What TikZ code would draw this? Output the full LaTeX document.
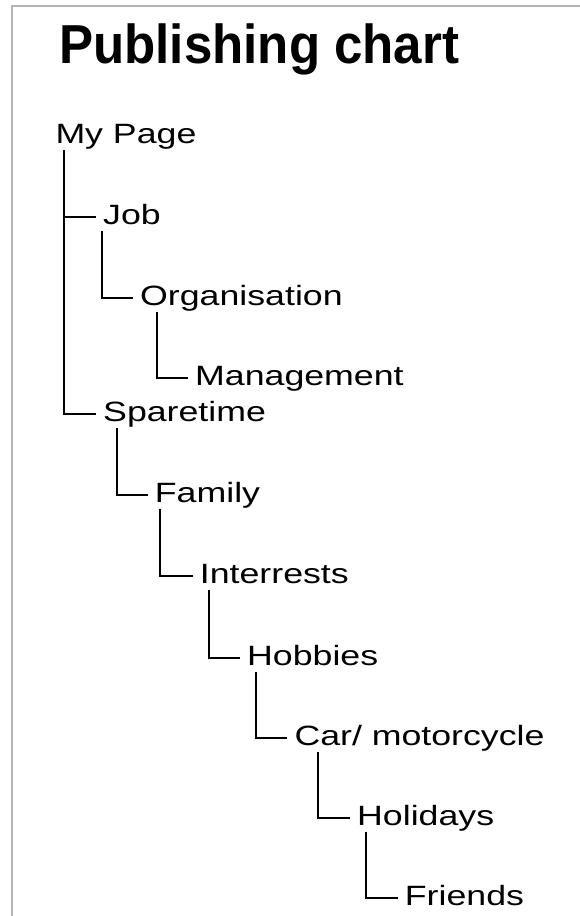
\documentclass[tikz,border=0pt]{standalone}
\usepackage{fontspec}
\setmainfont{Liberation Sans}
\newfontfamily\labelfont[FakeStretch=1.28]{Liberation Sans}
\newfontfamily\titlefont[FakeStretch=0.93]{Liberation Sans}
\definecolor{framegray}{RGB}{180,180,180}
\tikzset{
  entry/.style={anchor=base west,inner sep=0pt,font=\labelfont\fontsize{27.9}{30}\selectfont},
  branch/.style={line width=2pt,line cap=rect}
}
\begin{document}
\begin{tikzpicture}[x=1pt,y=-1pt]
\useasboundingbox (0,0) rectangle (580,916);
\draw[framegray,line width=2.2pt] (11.8,920) -- (11.8,6.2) -- (584,6.2);
\node[anchor=base west,inner sep=0pt,font=\titlefont\bfseries\fontsize{54.9}{60}\selectfont] (title) at (59,63.3) {Publishing chart};
\node[entry] (mypage) at (55.3,143.3) {My Page};
\node[entry] (job) at (103,224) {Job};
\node[entry] (organisation) at (140,305) {Organisation};
\node[entry] (management) at (195,385) {Management};
\node[entry] (sparetime) at (103,421.5) {Sparetime};
\node[entry] (family) at (154.7,502.7) {Family};
\node[entry] (interrests) at (199.7,583) {Interrests};
\node[entry] (hobbies) at (247,665) {Hobbies};
\node[entry] (car) at (294.3,745) {Car/ motorcycle};
\node[entry] (holidays) at (357,825) {Holidays};
\node[entry] (friends) at (404.7,905) {Friends};
\draw[branch] ([xshift=8.7pt,yshift=-7.5pt]mypage.base west) |- ([xshift=-8pt,yshift=7.5pt]job.base west);
\draw[branch] ([xshift=8.7pt,yshift=-7.5pt]mypage.base west) |- ([xshift=-8pt,yshift=7.5pt]sparetime.base west);
\draw[branch] ([xshift=-1.3pt,yshift=-7.5pt]job.base west) |- ([xshift=-8pt,yshift=7.5pt]organisation.base west);
\draw[branch] ([xshift=17.3pt,yshift=-7.5pt]organisation.base west) |- ([xshift=-8pt,yshift=7.5pt]management.base west);
\draw[branch] ([xshift=13.7pt,yshift=-7.5pt]sparetime.base west) |- ([xshift=-8pt,yshift=7.5pt]family.base west);
\draw[branch] ([xshift=5.3pt,yshift=-7.5pt]family.base west) |- ([xshift=-8pt,yshift=7.5pt]interrests.base west);
\draw[branch] ([xshift=9.6pt,yshift=-7.5pt]interrests.base west) |- ([xshift=-8pt,yshift=7.5pt]hobbies.base west);
\draw[branch] ([xshift=8.7pt,yshift=-7.5pt]hobbies.base west) |- ([xshift=-8pt,yshift=7.5pt]car.base west);
\draw[branch] ([xshift=24pt,yshift=-7.5pt]car.base west) |- ([xshift=-8pt,yshift=7.5pt]holidays.base west);
\draw[branch] ([xshift=8.7pt,yshift=-7.5pt]holidays.base west) |- ([xshift=-8pt,yshift=7.5pt]friends.base west);
\end{tikzpicture}
\end{document}
